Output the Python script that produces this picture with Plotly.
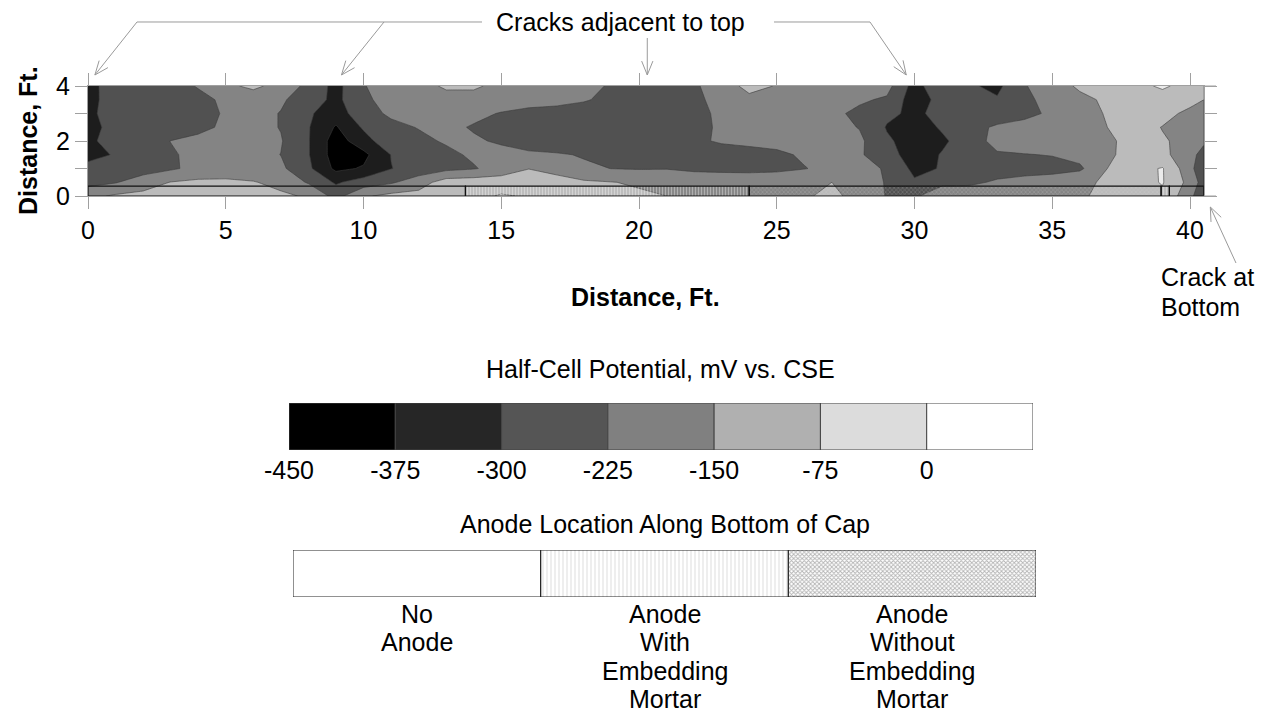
import math
import plotly.graph_objects as go

W, H = 1268, 714
FONT = "Liberation Sans"
FS = 25

# ---------------- survey grid (ft) ----------------
x_ft = [0, 1, 2, 3, 4, 5, 6, 7, 8, 9, 10, 11, 12, 13, 14, 15, 16, 17, 18, 19, 20,
        21, 22, 23, 24, 25, 26, 27, 28, 29, 30, 31, 32, 33, 34, 35, 36, 37, 38, 39, 40, 40.5]
y_ft = [0, 0.5, 1.0, 1.5, 2.0, 2.5, 3.0, 3.5, 4.0]

# half-cell potential readings, mV vs. CSE, one list per row of the grid
pot_y00 = [-170, -140, -130, -120, -115, -120, -125, -135, -160, -250, -160, -130, -125, -120, -90, -70, -80, -110, -120, -130, -140,
           -150, -160, -165, -165, -160, -155, -140, -165, -230, -240, -160, -175, -190, -180, -170, -155, -140, -120, -90, -200, -300]
pot_y05 = [-250, -230, -185, -148, -135, -135, -145, -175, -232, -310, -265, -235, -185, -115, -110, -105, -100, -115, -140, -148, -158,
           -170, -175, -175, -170, -165, -160, -150, -175, -232, -290, -250, -240, -215, -200, -190, -165, -140, -105, -70, -175, -260]
pot_y10 = [-280, -270, -260, -235, -205, -195, -205, -210, -285, -392, -368, -302, -270, -245, -230, -200, -152, -180, -210, -226, -230,
           -228, -240, -245, -250, -245, -228, -205, -215, -228, -320, -295, -265, -260, -255, -250, -238, -150, -100, -70, -200, -290]
pot_y15 = [-320, -295, -270, -232, -208, -190, -200, -226, -295, -412, -395, -298, -265, -240, -215, -200, -205, -215, -232, -260, -270,
           -275, -275, -265, -255, -240, -215, -210, -215, -275, -330, -296, -260, -235, -228, -222, -200, -160, -127, -140, -175, -280]
pot_y20 = [-310, -280, -255, -224, -200, -195, -200, -220, -295, -412, -330, -250, -240, -218, -215, -235, -275, -285, -290, -290, -285,
           -280, -240, -215, -205, -200, -190, -200, -210, -290, -330, -310, -270, -195, -185, -180, -170, -155, -140, -145, -165, -200]
pot_y25 = [-315, -285, -275, -265, -250, -208, -200, -228, -295, -382, -290, -242, -222, -205, -232, -255, -265, -270, -280, -285, -285,
           -275, -245, -215, -195, -180, -180, -200, -228, -305, -330, -293, -250, -214, -205, -195, -175, -150, -125, -152, -175, -180]
pot_y30 = [-310, -280, -272, -265, -250, -218, -200, -228, -290, -340, -251, -214, -195, -185, -205, -230, -250, -255, -262, -275, -280,
           -270, -240, -215, -190, -175, -185, -210, -240, -285, -315, -277, -270, -268, -240, -215, -175, -145, -120, -130, -165, -175]
pot_y35 = [-315, -278, -270, -262, -245, -212, -190, -215, -262, -320, -235, -206, -190, -175, -170, -180, -190, -200, -218, -245, -265,
           -268, -235, -210, -175, -170, -180, -195, -215, -235, -343, -271, -280, -292, -240, -200, -165, -140, -120, -105, -130, -150]
pot_y40 = [-320, -270, -265, -255, -220, -165, -135, -175, -246, -323, -232, -165, -175, -140, -142, -165, -180, -195, -205, -232, -262,
           -258, -232, -200, -120, -155, -170, -185, -200, -200, -330, -240, -290, -318, -230, -180, -140, -120, -95, -65, -100, -110]
potential = [pot_y00, pot_y05, pot_y10, pot_y15, pot_y20, pot_y25, pot_y30, pot_y35, pot_y40]

# ---------------- potential classes ----------------
band_lo = [-450, -375, -300, -225, -150, -75, 0]
band_width = [75, 75, 75, 75, 75, 75, 75]
band_colors = ["#000000", "#262626", "#555555", "#808080", "#b0b0b0", "#dcdcdc", "#ffffff"]
band_ticks = [-450, -375, -300, -225, -150, -75, 0]
band_tick_text = ["-450", "-375", "-300", "-225", "-150", "-75", "0"]

# ---------------- anode layout along the bottom of the cap ----------------
anode_start = [0, 13.7, 24.0, 38.95, 39.25]
anode_len = [13.7, 10.3, 14.95, 0.3, 1.25]
anode_kind = ["none", "with", "without", "with", "none"]
kind_names = ["none", "with", "without"]
kind_labels = [["No", "Anode"],
               ["Anode", "With", "Embedding", "Mortar"],
               ["Anode", "Without", "Embedding", "Mortar"]]
kind_shape = {"none": "", "with": "|", "without": "x"}
kind_fg = {"none": "#000000", "with": "#5e5e5e", "without": "#4a4a4a"}
kind_bg_strip = {"none": "rgba(255,255,255,0)", "with": "rgba(255,255,255,0.35)", "without": "rgba(215,215,215,0.25)"}
kind_fg_key = {"none": "#000000", "with": "#6a6a6a", "without": "#4a4a4a"}
kind_bg_key = {"none": "#ffffff", "with": "#e2e2e2", "without": "#b4b4b4"}
kind_size_key = {"none": 3, "with": 4, "without": 3}
kind_solid_key = {"none": 0.4, "with": 0.3, "without": 0.5}

# crack locations (ft)
crack_top = [0.25, 9.2, 20.3, 29.7]
crack_bottom = 40.7

# ---------------- layout geometry (pixels) ----------------
X0, X1 = 88, 1203.8          # main plot left/right
YT, YB = 86, 196             # main plot top/bottom


def px_x(v):
    return X0 + v * (X1 - X0) / 40.5


def paper(px, py):
    return px / W, 1 - py / H


# stepped colour scale sampled at the band centres
n_b = len(band_colors)
colorscale = [[0.0, band_colors[0]]] + [[(i + 1) / n_b, band_colors[i]] for i in range(n_b)]
colorscale[-1] = [1.0, band_colors[-1]]

fig = go.Figure()

fig.add_trace(go.Contour(
    x=x_ft, y=y_ft, z=potential,
    zmin=-450, zmax=75, zauto=False,
    colorscale=colorscale,
    contours=dict(start=-450, end=0, size=75, coloring="fill"),
    line=dict(color="#3c3c3c", width=0.6, smoothing=0),
    showscale=False, hoverinfo="skip",
))

# anode strip along the bottom of the cap
fig.add_trace(go.Bar(
    orientation="h",
    y=[0.18] * len(anode_start), x=anode_len, base=anode_start, width=0.36,
    marker=dict(
        color=[kind_bg_strip[k] for k in anode_kind],
        line=dict(color="#111111", width=1.2),
        pattern=dict(
            shape=[kind_shape[k] for k in anode_kind],
            fgcolor=[kind_fg[k] for k in anode_kind],
            bgcolor=[kind_bg_strip[k] for k in anode_kind],
            size=3, solidity=0.4, fillmode="replace",
        ),
    ),
    hoverinfo="skip", xaxis="x", yaxis="y",
))

# potential class key
fig.add_trace(go.Bar(
    orientation="h",
    y=[0] * len(band_lo), x=band_width, base=band_lo, width=1,
    marker=dict(color=band_colors, line=dict(color="#444444", width=1)),
    hoverinfo="skip", xaxis="x2", yaxis="y2",
))

# anode key
fig.add_trace(go.Bar(
    orientation="h",
    y=[0, 0, 0], x=[1, 1, 1], base=[0, 1, 2], width=1,
    marker=dict(
        color=[kind_bg_key[k] for k in kind_names],
        line=dict(color="#222222", width=1),
        pattern=dict(
            shape=[kind_shape[k] for k in kind_names],
            fgcolor=[kind_fg_key[k] for k in kind_names],
            bgcolor=[kind_bg_key[k] for k in kind_names],
            size=[kind_size_key[k] for k in kind_names],
            solidity=[kind_solid_key[k] for k in kind_names],
            fillmode="replace",
        ),
    ),
    hoverinfo="skip", xaxis="x3", yaxis="y3",
))

axis_grey = "#a0a0a0"
tick_font = dict(family=FONT, size=FS, color="#000000")

fig.update_layout(
    width=W, height=H,
    margin=dict(l=0, r=0, t=0, b=0, autoexpand=False),
    paper_bgcolor="white", plot_bgcolor="white",
    showlegend=False,
    font=dict(family=FONT, size=FS, color="#000000"),
    xaxis=dict(
        domain=[X0 / W, X1 / W], range=[0, 40.5], automargin=False,
        tickvals=[0, 5, 10, 15, 20, 25, 30, 35, 40],
        ticks="outside", ticklen=12, tickcolor=axis_grey, tickwidth=1,
        showline=True, linecolor=axis_grey, mirror="ticks",
        showgrid=False, zeroline=False, tickfont=tick_font, anchor="y",
    ),
    yaxis=dict(
        domain=[1 - YB / H, 1 - YT / H], range=[0, 4], automargin=False,
        tickvals=[0, 1, 2, 3, 4], ticktext=["0", "", "2", "", "4"],
        ticks="outside", ticklen=12, tickcolor=axis_grey, tickwidth=1,
        showline=True, linecolor=axis_grey, mirror="ticks",
        showgrid=False, zeroline=False, tickfont=tick_font, anchor="x",
    ),
    xaxis2=dict(
        domain=[289 / W, 1033 / W], range=[-450, 75], automargin=False,
        tickvals=band_ticks, ticktext=band_tick_text, ticks="", ticklabelstandoff=3,
        showline=False, showgrid=False, zeroline=False,
        tickfont=tick_font, anchor="y2",
    ),
    yaxis2=dict(domain=[1 - 450 / H, 1 - 403 / H], range=[-0.5, 0.5], visible=False,
                automargin=False, anchor="x2"),
    xaxis3=dict(domain=[293 / W, 1036 / W], range=[0, 3], visible=False,
                automargin=False, anchor="y3"),
    yaxis3=dict(domain=[1 - 597 / H, 1 - 550 / H], range=[-0.5, 0.5], visible=False,
                automargin=False, anchor="x3"),
)

annotations = []


def note(text, px, py, xanchor="center", yanchor="middle", size=FS, angle=0):
    x, y = paper(px, py)
    annotations.append(dict(
        text=text, x=x, y=y, xref="paper", yref="paper",
        xanchor=xanchor, yanchor=yanchor, showarrow=False,
        textangle=angle, font=dict(family=FONT, size=size, color="#000000"),
    ))


note("Cracks adjacent to top", 620, 22)
note("<b>Distance, Ft.</b>", (X0 + X1) / 2, 297)
note("<b>Distance, Ft.</b>", 28, (YT + YB) / 2, angle=-90)
note("Crack at", 1159, 277, xanchor="left")
note("Bottom", 1159, 307, xanchor="left")
note("Half-Cell Potential, mV vs. CSE", 660, 369)
note("Anode Location Along Bottom of Cap", 665, 524)

# key labels, one line at a time so the spacing stays tight
for i, lines in enumerate(kind_labels):
    for j, line in enumerate(lines):
        annotations.append(dict(
            text=line, x=i + 0.5, y=1 - (614 + 28.4 * j) / H, xref="x3", yref="paper",
            xanchor="center", yanchor="middle", showarrow=False, borderpad=0,
            font=dict(family=FONT, size=FS, color="#000000"),
        ))

fig.update_layout(annotations=annotations)

# leader lines with open arrowheads pointing at the cracks
shapes = []
lead_grey = "#9a9a9a"


def polyline(points):
    pts = [paper(px, py) for px, py in points]
    return "M " + " L ".join(f"{x:.5f},{y:.5f}" for x, y in pts)


def leader(points):
    shapes.append(dict(type="path", path=polyline(points), xref="paper", yref="paper",
                       line=dict(color=lead_grey, width=1)))
    (ax, ay), (tx, ty) = points[-2], points[-1]
    d = math.hypot(tx - ax, ty - ay)
    ux, uy = (tx - ax) / d, (ty - ay) / d
    wings = []
    for s in (1, -1):
        a = math.radians(22) * s
        rx = ux * math.cos(a) - uy * math.sin(a)
        ry = ux * math.sin(a) + uy * math.cos(a)
        wings.append((tx - 15 * rx, ty - 15 * ry))
    shapes.append(dict(type="path", path=polyline([wings[0], (tx, ty), wings[1]]),
                       xref="paper", yref="paper", line=dict(color=lead_grey, width=1)))


tip_y = YT - 11
leader([(482, 22), (137, 22), (px_x(crack_top[0]), tip_y)])
leader([(384, 22), (px_x(crack_top[1]), tip_y)])
leader([(px_x(crack_top[2]), 38), (px_x(crack_top[2]), tip_y)])
leader([(774, 22), (870, 22), (px_x(crack_top[3]), tip_y)])
leader([(1236, 263), (px_x(crack_bottom) + 1, YB + 11)])

# top and bottom frame lines run a little past the right edge of the map
for yy in (YT, YB):
    shapes.append(dict(type="path", path=polyline([(X1, yy), (1216, yy)]),
                       xref="paper", yref="paper", line=dict(color=axis_grey, width=1)))

fig.update_layout(shapes=shapes)

fig.write_html("out.html")
